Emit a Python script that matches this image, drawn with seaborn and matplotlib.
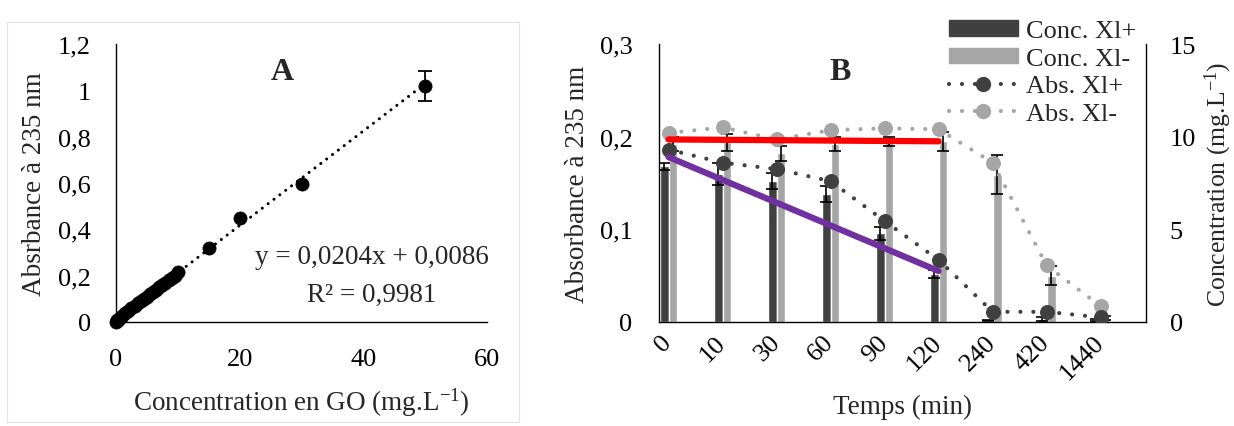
import matplotlib
matplotlib.use("Agg")
import matplotlib.pyplot as plt
from matplotlib.patches import Patch, Rectangle
from matplotlib.lines import Line2D
from matplotlib.transforms import ScaledTranslation
import seaborn as sns
import numpy as np
import pandas as pd

# ---------------- data ----------------
# Panel A : calibration
conc_A = [0, 0.1, 0.2, 0.3, 0.5, 0.75, 1, 1.5, 2, 2.5, 3, 3.5, 4, 4.5, 5, 5.5,
          6, 6.5, 7, 7.5, 8, 8.5, 9, 9.5, 10, 15, 20, 30, 50]
abs_A = [0.002, 0.004, 0.008, 0.010, 0.015, 0.020, 0.028, 0.038, 0.048, 0.060,
         0.070, 0.080, 0.090, 0.100, 0.110, 0.120, 0.130, 0.140, 0.150, 0.160,
         0.170, 0.180, 0.190, 0.200, 0.215, 0.318, 0.448, 0.596, 1.020]
err_A_x = [50]
err_A_y = [1.020]
err_A = [0.065]
trend_A_x = [0, 50]
trend_A_y = [0.0086, 1.0286]
eq_text = "y = 0,0204x + 0,0086"
r2_text = "R² = 0,9981"

# Panel B : kinetics
temps = ["0", "10", "30", "60", "90", "120", "240", "420", "1440"]
conc_xlp = [8.4, 8.0, 7.6, 6.9, 4.8, 2.6, 0.08, 0.15, 0.1]
conc_xlp_err = [0.2, 0.6, 0.45, 0.45, 0.35, 0.2, 0.05, 0.1, 0.05]
conc_xlm = [9.6, 9.7, 9.1, 9.6, 9.75, 9.75, 7.95, 2.5, 0.2]
conc_xlm_err = [0.4, 0.45, 0.4, 0.4, 0.25, 0.5, 1.05, 0.5, 0.1]
abs_xlp = [0.186, 0.172, 0.165, 0.152, 0.109, 0.067, 0.011, 0.011, 0.005]
abs_xlm = [0.204, 0.210, 0.197, 0.207, 0.209, 0.208, 0.172, 0.061, 0.017]
trend_B_x = [0, 5]
trend_red = [0.197, 0.195]
trend_purple = [0.178, 0.055]

# ---------------- style ----------------
sns.set_theme(style="white")
plt.rcParams["font.family"] = ["Liberation Serif", "DejaVu Serif"]
plt.rcParams["mathtext.fontset"] = "custom"
plt.rcParams["mathtext.rm"] = "Liberation Serif"
plt.rcParams["mathtext.it"] = "Liberation Serif:italic"

DARK = "#404040"
LIGHT = "#a6a6a6"
DOT = (0, (0.01, 3.1))
FT = 19      # tick labels
FL = 19.5    # axis labels

fig = plt.figure(figsize=(12.34, 4.27), dpi=100)
W, H = 1234, 427

def fx(px):
    return px / W

def fy(py):
    return 1 - py / H

# light frame around panel A
fig.add_artist(Rectangle((fx(7), fy(423)), fx(512), 400 / H, transform=fig.transFigure,
                         fill=False, ec="#e4e4e4", lw=0.8))

# ---------------- Panel A ----------------
axA = fig.add_axes([fx(116), fy(323), fx(487 - 116), (323 - 45) / H])
sns.lineplot(x=trend_A_x, y=trend_A_y, ax=axA, color="black", lw=2.2,
             linestyle=(0, (0.01, 2.4)), dash_capstyle="round", zorder=2)
sns.scatterplot(x=conc_A, y=abs_A, ax=axA, color="black", s=90, edgecolor="black",
                linewidth=0.5, clip_on=False, zorder=3)
axA.errorbar(err_A_x, err_A_y, yerr=err_A, fmt="none", ecolor="black",
             elinewidth=1.3, capsize=5, capthick=1.3, zorder=4)
axA.set_xlim(0, 60)
axA.set_ylim(0, 1.2)
axA.set_xticks([0, 20, 40, 60])
axA.set_xticklabels(["0", "20", "40", "60"])
axA.set_yticks([0, 0.2, 0.4, 0.6, 0.8, 1.0, 1.2])
axA.set_yticklabels(["0", "0,2", "0,4", "0,6", "0,8", "1", "1,2"])
axA.tick_params(axis="both", length=0, labelsize=FT, colors="black")
axA.tick_params(axis="x", pad=19)
axA.tick_params(axis="y", pad=18)
for s in ["top", "right"]:
    axA.spines[s].set_visible(False)
for s in ["left", "bottom"]:
    axA.spines[s].set_color("black")
    axA.spines[s].set_linewidth(1.0)
axA.set_xlabel(r"Concentration en GO (mg.L$^{-1}$)", fontsize=FL, labelpad=11)
axA.set_ylabel("Absrbance à 235 nm", fontsize=FL, labelpad=8)
axA.text(0.447, 0.9, "A", transform=axA.transAxes, fontsize=23, fontweight="bold",
         ha="center", va="center")
axA.text(0.69, 0.235, eq_text, transform=axA.transAxes, fontsize=FL,
         ha="center", va="center")
axA.text(0.69, 0.098, r2_text, transform=axA.transAxes, fontsize=FL,
         ha="center", va="center")

# ---------------- Panel B ----------------
ax = fig.add_axes([fx(659), fy(323), fx(1146 - 659), (323 - 45) / H])
ax2 = ax.twinx()

df_bars = pd.DataFrame({
    "Temps": temps * 2,
    "Concentration": conc_xlp + conc_xlm,
    "Série": ["Conc. Xl+"] * len(temps) + ["Conc. Xl-"] * len(temps),
})
sns.barplot(data=df_bars, x="Temps", y="Concentration", hue="Série", order=temps,
            hue_order=["Conc. Xl+", "Conc. Xl-"], palette=[DARK, LIGHT],
            width=0.33, errorbar=None, legend=False, ax=ax2, saturation=1)
for cont, errs, vals in zip(ax2.containers, [conc_xlp_err, conc_xlm_err], [conc_xlp, conc_xlm]):
    centers = [p.get_x() + p.get_width() / 2 for p in cont]
    ax2.errorbar(centers, vals, yerr=errs, fmt="none", ecolor="black",
                 elinewidth=1.2, capsize=4, capthick=1.2, zorder=5)

pos = np.arange(len(temps))
sns.lineplot(x=pos, y=abs_xlm, ax=ax, color=LIGHT, lw=3, linestyle=DOT,
             dash_capstyle="round", marker="o", markersize=10,
             markeredgecolor=LIGHT, zorder=3, sort=False)
sns.lineplot(x=pos, y=abs_xlp, ax=ax, color=DARK, lw=3, linestyle=DOT,
             dash_capstyle="round", marker="o", markersize=10,
             markeredgecolor=DARK, zorder=3, sort=False)
sns.lineplot(x=trend_B_x, y=trend_red, ax=ax, color="#ff0000", lw=4.5, zorder=4)
sns.lineplot(x=trend_B_x, y=trend_purple, ax=ax, color="#7030a0", lw=4.5, zorder=4)

ax.set_zorder(ax2.get_zorder() + 1)
ax.patch.set_visible(False)

ax.set_xlim(-0.176, 8.84)
ax.set_ylim(0, 0.3)
ax2.set_ylim(0, 15)
ax.set_yticks([0, 0.1, 0.2, 0.3])
ax.set_yticklabels(["0", "0,1", "0,2", "0,3"])
ax2.set_yticks([0, 5, 10, 15])
ax2.set_yticklabels(["0", "5", "10", "15"])
ax.set_xticks(pos)
ax.set_xticklabels(temps, rotation=45, ha="right", va="center", rotation_mode="anchor")
shift = ScaledTranslation(-9 / 100, -5 / 100, fig.dpi_scale_trans)
for lab in ax.get_xticklabels():
    lab.set_transform(lab.get_transform() + shift)
ax.tick_params(axis="both", length=0, labelsize=FT, colors="black")
ax.tick_params(axis="x", pad=12)
ax.tick_params(axis="y", pad=19)
ax2.tick_params(axis="y", length=0, labelsize=FT, colors="black", pad=17)
ax2.set_xlabel("")

for s in ["top", "right"]:
    ax.spines[s].set_visible(False)
for s in ["left", "bottom"]:
    ax.spines[s].set_color("black")
    ax.spines[s].set_linewidth(1.0)
for s in ["top", "left", "bottom"]:
    ax2.spines[s].set_visible(False)
ax2.spines["right"].set_color("black")
ax2.spines["right"].set_linewidth(1.0)

ax.set_xlabel("Temps (min)", fontsize=FL, labelpad=7)
ax.set_ylabel("Absorbance à 235 nm", fontsize=FL, labelpad=7)
ax2.set_ylabel(r"Concentration (mg.L$^{-1}$)", fontsize=18.5, labelpad=5)
ax.text(0.371, 0.9, "B", transform=ax.transAxes, fontsize=23, fontweight="bold",
        ha="center", va="center")

handles = [
    Patch(facecolor=DARK, edgecolor=DARK),
    Patch(facecolor=LIGHT, edgecolor=LIGHT),
    Line2D([], [], color=DARK, lw=3, linestyle=DOT, dash_capstyle="round",
           marker="o", markersize=10),
    Line2D([], [], color=LIGHT, lw=3, linestyle=DOT, dash_capstyle="round",
           marker="o", markersize=10),
]
labels = ["Conc. Xl+", "Conc. Xl-", "Abs. Xl+", "Abs. Xl-"]
fig.legend(handles, labels, loc="upper left", bbox_to_anchor=(fx(949), fy(21)),
           frameon=False, fontsize=19, handlelength=2.6, handleheight=0.55,
           handletextpad=0.3, labelspacing=0.2, borderpad=0, borderaxespad=0)

fig.savefig("out.png", dpi=100)
